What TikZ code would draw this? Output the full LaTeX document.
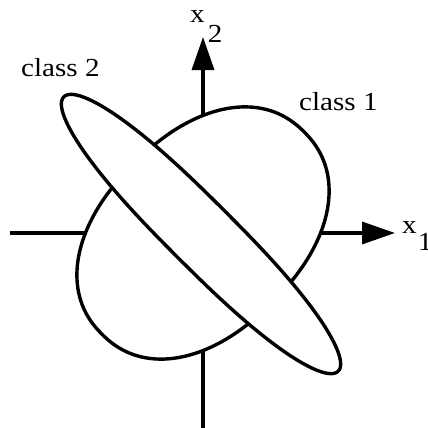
\documentclass[tikz,border=0pt]{standalone}
\usepackage{fontspec}
\newfontfamily\lab[FakeStretch=1.12]{Liberation Serif}
\usetikzlibrary{arrows.meta}
\tikzset{
  declare function={spw(\t,\p)=\t*abs(\t)^(\p-1);},
  axisline/.style={line width=3.4pt,-{Triangle[length=33pt,width=22pt]}},
  region/.style={line width=3.4pt,fill=white,line join=round},
  lbl/.style={inner sep=0pt,font=\lab\fontsize{26}{30}\selectfont}
}
\begin{document}
\begin{tikzpicture}[x=1pt,y=-1pt]
\useasboundingbox (0,0) rectangle (428,428);
% axes
\coordinate (xl) at (10,233);
\coordinate (xr) at (395,233);
\coordinate (yb) at (203,428);
\coordinate (yt) at (203,37);
\draw[axisline] (xl) -- (xr);
\draw[axisline] (yb) -- (yt);
% class 1 region
\draw[region] plot[domain=1:359,samples=180,variable=\t]
  ({203+(143*spw(cos(\t),0.91)+98*spw(sin(\t),0.91))/sqrt(2)},
   {233+(-143*spw(cos(\t),0.91)+98*spw(sin(\t),0.91))/sqrt(2)}) -- cycle;
% class 2 region
\draw[region] plot[domain=1:359,samples=180,variable=\t]
  ({201+(194*spw(cos(\t),0.8)+33*sin(\t))/sqrt(2)},
   {234+(194*spw(cos(\t),0.8)-33*sin(\t))/sqrt(2)}) -- cycle;
% labels
\node[lbl,anchor=base west] (c2) at (21,77) {class 2};
\node[lbl,anchor=base west] (c1) at (299,110) {class 1};
\node[lbl,anchor=base west] (x2) at (190,23) {x\kern3pt\raisebox{-20pt}{2}};
\node[lbl,anchor=base west] (x1) at (402,233) {x\kern1pt\raisebox{-17pt}{1}};
\end{tikzpicture}
\end{document}
